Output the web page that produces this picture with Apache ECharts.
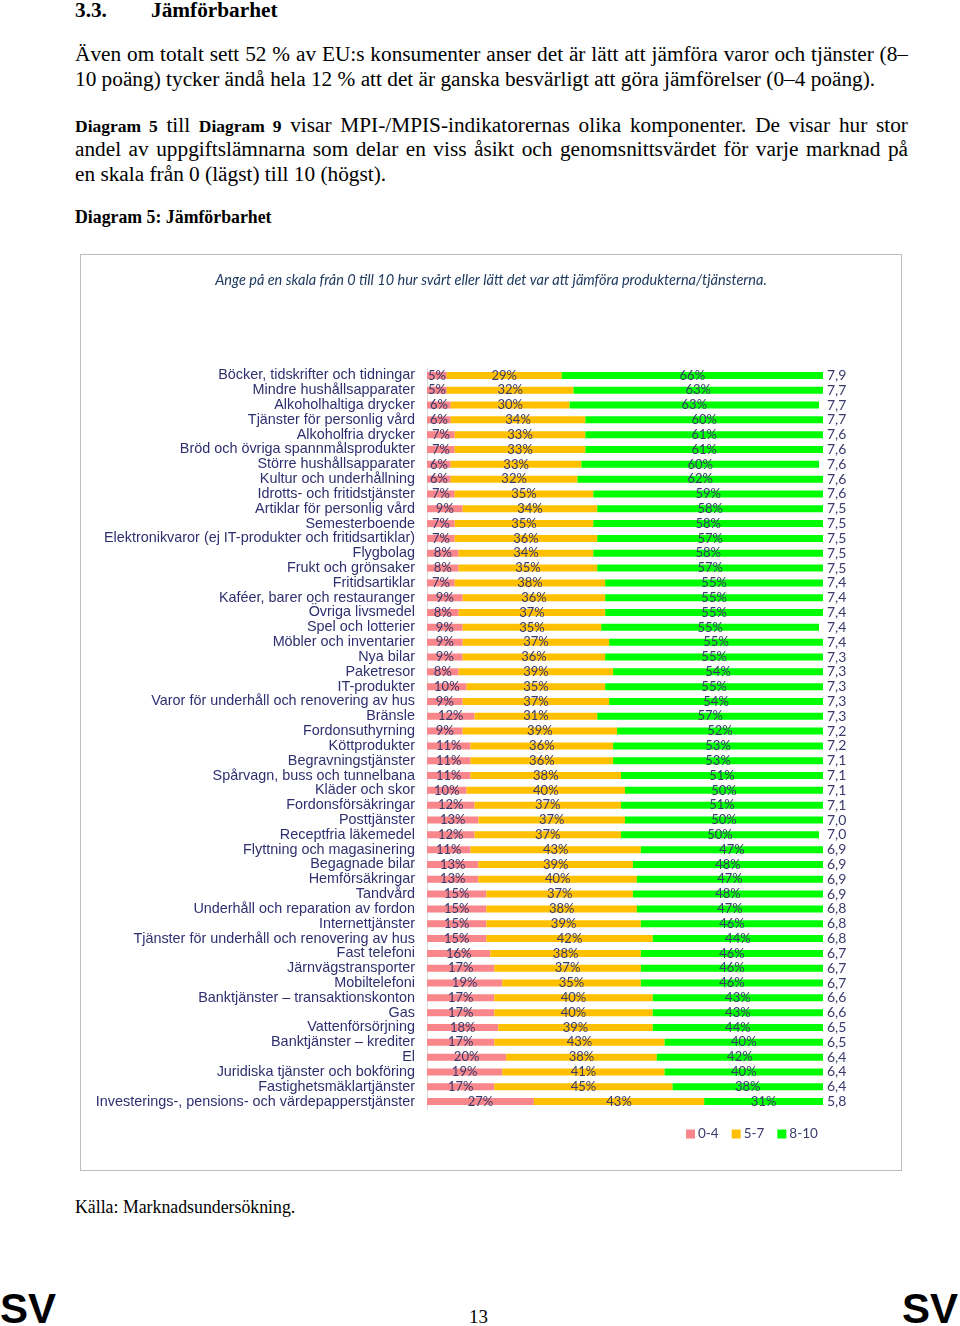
<!DOCTYPE html>
<html>
<head>
<meta charset="utf-8">
<script src="https://cdn.jsdelivr.net/npm/echarts@6/dist/echarts.min.js"></script>
<style>
  html, body { margin:0; padding:0; background:#fff; }
  body { width:960px; height:1326px; position:relative; overflow:hidden; font-family:"Liberation Serif", "DejaVu Serif", serif; color:#000; }
  .ln { position:absolute; left:75px; width:833px; font-size:21.3px; line-height:21px; white-space:nowrap; }
  .just { text-align:justify; text-align-last:justify; white-space:normal; }
  .b { font-weight:bold; font-size:17.5px; }
  #chartBox { position:absolute; left:80px; top:254px; width:822px; height:917px; border:1px solid #bdbdbd; box-sizing:border-box; }
  #chart { width:820px; height:915px; }
  .sv { position:absolute; top:1288px; font-family:"Liberation Sans", Arial, sans-serif; font-weight:bold; font-size:42px; line-height:42px; }
</style>
</head>
<body>
<div class="ln" style="top:-1px;font-weight:bold;font-size:21.3px;line-height:22px;">3.3.<span style="position:absolute;left:76px;">Jämförbarhet</span></div>
<div class="ln just" style="top:44px;">Även om totalt sett 52 % av EU:s konsumenter anser det är lätt att jämföra varor och tjänster (8–</div>
<div class="ln" style="top:69px;">10 poäng) tycker ändå hela 12 % att det är ganska besvärligt att göra jämförelser (0–4 poäng).</div>
<div class="ln just" style="top:115px;"><span class="b">Diagram 5</span> till <span class="b">Diagram 9</span> visar MPI-/MPIS-indikatorernas olika komponenter. De visar hur stor</div>
<div class="ln just" style="top:139px;">andel av uppgiftslämnarna som delar en viss åsikt och genomsnittsvärdet för varje marknad på</div>
<div class="ln" style="top:164px;">en skala från 0 (lägst) till 10 (högst).</div>
<div class="ln" style="top:208px;font-weight:bold;font-size:17.8px;line-height:18px;">Diagram 5: Jämförbarhet</div>

<div id="chartBox"><div id="chart"></div></div>

<div class="ln" style="top:1198px;font-size:17.8px;line-height:18px;">Källa: Marknadsundersökning.</div>
<div class="sv" style="left:0px;">SV</div>
<div class="sv" style="left:902px;">SV</div>
<div style="position:absolute;left:469px;top:1307px;font-size:19px;line-height:19px;">13</div>

<script>
const categories = [
  "Böcker, tidskrifter och tidningar",
  "Mindre hushållsapparater",
  "Alkoholhaltiga drycker",
  "Tjänster för personlig vård",
  "Alkoholfria drycker",
  "Bröd och övriga spannmålsprodukter",
  "Större hushållsapparater",
  "Kultur och underhållning",
  "Idrotts- och fritidstjänster",
  "Artiklar för personlig vård",
  "Semesterboende",
  "Elektronikvaror (ej IT-produkter och fritidsartiklar)",
  "Flygbolag",
  "Frukt och grönsaker",
  "Fritidsartiklar",
  "Kaféer, barer och restauranger",
  "Övriga livsmedel",
  "Spel och lotterier",
  "Möbler och inventarier",
  "Nya bilar",
  "Paketresor",
  "IT-produkter",
  "Varor för underhåll och renovering av hus",
  "Bränsle",
  "Fordonsuthyrning",
  "Köttprodukter",
  "Begravningstjänster",
  "Spårvagn, buss och tunnelbana",
  "Kläder och skor",
  "Fordonsförsäkringar",
  "Posttjänster",
  "Receptfria läkemedel",
  "Flyttning och magasinering",
  "Begagnade bilar",
  "Hemförsäkringar",
  "Tandvård",
  "Underhåll och reparation av fordon",
  "Internettjänster",
  "Tjänster för underhåll och renovering av hus",
  "Fast telefoni",
  "Järnvägstransporter",
  "Mobiltelefoni",
  "Banktjänster – transaktionskonton",
  "Gas",
  "Vattenförsörjning",
  "Banktjänster – krediter",
  "El",
  "Juridiska tjänster och bokföring",
  "Fastighetsmäklartjänster",
  "Investerings-, pensions- och värdepapperstjänster"
];
const low = [5,5,6,6,7,7,6,6,7,9,7,7,8,8,7,9,8,9,9,9,8,10,9,12,9,11,11,11,10,12,13,12,11,13,13,15,15,15,15,16,17,19,17,17,18,17,20,19,17,27];
const mid = [29,32,30,34,33,33,33,32,35,34,35,36,34,35,38,36,37,35,37,36,39,35,37,31,39,36,36,38,40,37,37,37,43,39,40,37,38,39,42,38,37,35,40,40,39,43,38,41,45,43];
const high = [66,63,63,60,61,61,60,62,59,58,58,57,58,57,55,55,55,55,55,55,54,55,54,57,52,53,53,51,50,51,50,50,47,48,47,48,47,46,44,46,46,46,43,43,44,40,42,40,38,31];
const means = [7.9,7.7,7.7,7.7,7.6,7.6,7.6,7.6,7.6,7.5,7.5,7.5,7.5,7.5,7.4,7.4,7.4,7.4,7.4,7.3,7.3,7.3,7.3,7.3,7.2,7.2,7.1,7.1,7.1,7.1,7.0,7.0,6.9,6.9,6.9,6.9,6.8,6.8,6.8,6.7,6.7,6.7,6.6,6.6,6.5,6.5,6.4,6.4,6.4,5.8];
const seriesNames = ["0-4","5-7","8-10"];
const seriesColors = ["#f8868b","#ffc000","#00ff00"];
const titleText = "Ange på en skala från 0 till 10 hur svårt eller lätt det var att jämföra produkterna/tjänsterna.";

const meanLabels = means.map(v => v.toFixed(1).replace('.', ','));
const labelStyle = {
  show: true, position: 'inside', formatter: p => p.value + '%',
  fontFamily: 'Lato', fontSize: 13, color: '#3a3a6c'
};
const chart = echarts.init(document.getElementById('chart'), null, {renderer: 'canvas'});
const dataSets = [low, mid, high];
chart.setOption({
  animation: false,
  title: {
    text: titleText, left: 'center', top: 13,
    textStyle: {fontFamily: 'Lato', fontStyle: 'italic', fontWeight: 'normal', fontSize: 14.5, color: '#1f3a60'}
  },
  legend: {
    data: seriesNames, left: 600, top: 867, icon: 'rect', itemWidth: 9, itemHeight: 9, itemGap: 13,
    textStyle: {fontFamily: 'Lato', fontSize: 13.5, color: '#3a3a6c', padding: [0,0,0,-2]}
  },
  grid: {left: 346, right: 78, top: 113, bottom: 61, containLabel: false},
  xAxis: {type: 'value', min: 0, max: 100, show: false},
  yAxis: [
    {type: 'category', data: categories, inverse: true,
     axisTick: {show: false}, axisLine: {show: true, lineStyle: {color: '#d9d9d9'}},
     axisLabel: {interval: 0, margin: 12, fontFamily: 'Liberation Sans', fontSize: 14.4, color: '#2f2f70'}},
    {type: 'category', data: meanLabels, inverse: true, position: 'right',
     axisTick: {show: false}, axisLine: {show: false},
     axisLabel: {interval: 0, margin: 4, fontFamily: 'Lato', fontSize: 14, color: '#3a3a6c'}}
  ],
  series: dataSets.map((d, i) => ({
    name: seriesNames[i], type: 'bar', stack: 'total', data: d, barWidth: 7,
    clip: true, itemStyle: {color: seriesColors[i]}, label: labelStyle
  }))
});
</script>
</body>
</html>
